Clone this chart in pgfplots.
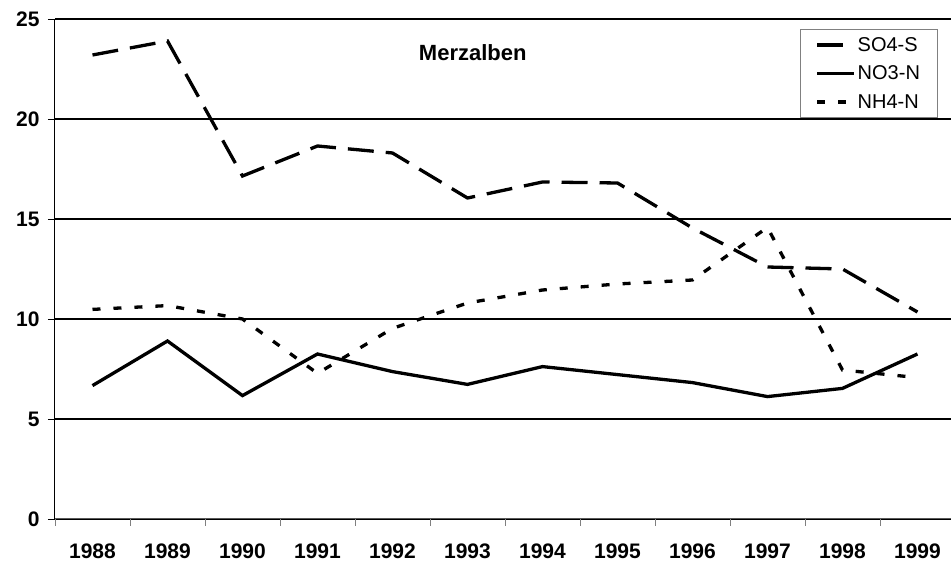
\documentclass[border=0pt]{standalone}
\usepackage{pgfplots}
\pgfplotsset{compat=1.18}
\usepackage{fontspec}
\setmainfont{Liberation Sans}
\begin{document}
\begin{tikzpicture}
\begin{axis}[
    scale only axis,
    width=896pt, height=500pt,
    xmin=-0.5, xmax=11.447,
    ymin=0, ymax=25,
    axis x line*=bottom, axis y line*=left,
    axis line style={-, line width=1pt},
    x axis line style={gray!70!black},
    xtick={-0.5,0.5,...,10.5},
    xticklabels={},
    xtick style={gray, line width=0.8pt},
    extra x ticks={0,1,2,3,4,5,6,7,8,9,10,11},
    extra x tick labels={1988,1989,1990,1991,1992,1993,1994,1995,1996,1997,1998,1999},
    extra x tick style={major tick length=0pt, xticklabel style={yshift=-21pt}},
    ytick={0,5,10,15,20,25},
    ytick style={black, line width=0.8pt},
    major tick length=7pt,
    tick align=outside,
    ymajorgrids,
    major grid style={black, line width=1.2pt},
    tick label style={font=\fontsize{21}{21}\selectfont\bfseries},
    yticklabel style={xshift=-5pt},
    /pgf/number format/assume math mode=true,
    legend style={at={(0.8315,0.98)}, anchor=north west, draw=gray, line width=0.8pt,
        font=\fontsize{20}{20}\selectfont, inner xsep=15pt, inner ysep=6pt,
        row sep=9pt},
    legend cell align=left,
    legend image code/.code={\draw[#1] (0pt,0pt) -- (37pt,0pt);},
]
\addplot[black, line width=3.3pt, dash pattern=on 26pt off 12pt] coordinates {
(0,23.2) (1,23.9) (2,17.15) (3,18.65) (4,18.3) (5,16.05)
(6,16.85) (7,16.8) (8,14.55) (9,12.6) (10,12.5) (11,10.35)};
\addlegendentry{SO4-S}
\addplot[black, line width=3.3pt] coordinates {
(0,6.67) (1,8.9) (2,6.17) (3,8.25) (4,7.37) (5,6.73)
(6,7.62) (7,7.22) (8,6.82) (9,6.12) (10,6.53) (11,8.25)};
\addlegendentry{NO3-N}
\addplot[black, line width=3.3pt, dash pattern=on 8pt off 13pt] coordinates {
(0,10.48) (1,10.67) (2,10.0) (3,7.28) (4,9.53) (5,10.8)
(6,11.45) (7,11.75) (8,11.95) (9,14.58) (10,7.45) (11,7.07)};
\addlegendentry{NH4-N}
\node[font=\fontsize{22}{22}\selectfont\bfseries] at (axis cs:5.07,23.3) {Merzalben};
\end{axis}
\pgfresetboundingbox
\path (current axis.south west) ++(-55pt,-50pt) rectangle ++(951pt,569pt);
\end{tikzpicture}
\end{document}
